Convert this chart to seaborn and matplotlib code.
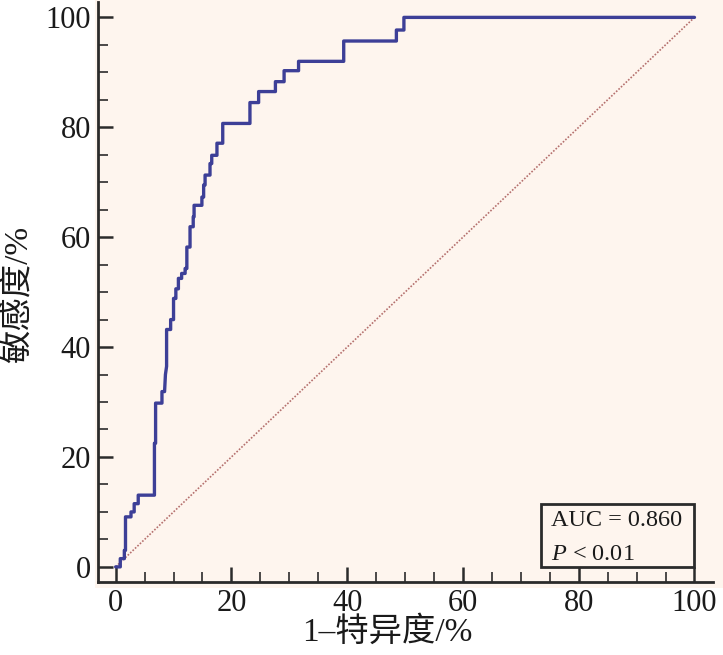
import numpy as np
import seaborn as sns
import matplotlib.pyplot as plt
from matplotlib.patches import Rectangle
from matplotlib.ticker import MultipleLocator

# ROC curve corners (percent)
fpr = [0, 0.8, 0.8, 1.5, 1.5, 1.7, 1.7, 2.65, 2.65, 3.2, 3.2, 3.9, 3.9, 6.7,
       6.7, 6.9, 6.9, 8.0, 8.0, 8.45, 8.6, 8.8, 8.8, 9.5, 9.5, 10.0, 10.0, 10.4,
       10.4, 10.84, 10.84, 11.4, 11.4, 12.0, 12.0, 12.3, 12.3, 12.85, 12.85, 13.4,
       13.4, 13.55, 13.55, 14.9, 14.9, 15.2, 15.2, 15.45, 15.45, 16.3, 16.3, 16.6,
       16.6, 17.5, 17.5, 17.75, 17.75, 18.5, 18.5, 23.2, 23.2, 24.7, 24.7, 27.6,
       27.6, 29.1, 29.1, 31.6, 31.6, 39.4, 39.4, 48.5, 48.5, 49.8, 49.8, 100]
tpr = [0, 0, 1.5, 1.5, 3.0, 3.0, 9.1, 9.1, 10.0, 10.0, 11.5, 11.5, 13.05, 13.05,
       22.5, 22.5, 29.8, 29.8, 31.9, 31.9, 35.0, 36.5, 43.2, 43.2, 45.0, 45.0, 48.85, 48.85,
       50.6, 50.6, 52.5, 52.5, 53.4, 53.4, 54.3, 54.3, 58.2, 58.2, 61.9, 61.9,
       63.7, 63.7, 65.8, 65.8, 67.3, 67.3, 69.5, 69.5, 71.3, 71.3, 73.4, 73.4,
       74.9, 74.9, 77.1, 77.1, 77.1, 77.1, 80.7, 80.7, 84.5, 84.5, 86.5, 86.5,
       88.3, 88.3, 90.3, 90.3, 92.0, 92.0, 95.7, 95.7, 97.7, 97.7, 100, 100]
ref_x = [0, 100]
ref_y = [0, 100]
ticks = [0, 20, 40, 60, 80, 100]
auc_text = 'AUC = 0.860'
p_text = r'$P$ < 0.01'

sns.set_style('ticks')
plt.rcParams['font.family'] = ['Liberation Serif', 'Noto Sans CJK SC']
plt.rcParams['mathtext.fontset'] = 'custom'
plt.rcParams['mathtext.rm'] = 'Liberation Serif'
plt.rcParams['mathtext.it'] = 'Liberation Serif:italic'

bg = '#fef5ee'
ink = '#2b2b2b'

fig = plt.figure(figsize=(7.23, 6.55), dpi=100)
fig.patches.append(Rectangle((95 / 723, 67 / 655), 1, 1, transform=fig.transFigure,
                             facecolor=bg, edgecolor='none', zorder=-5))
ax = fig.add_axes([98 / 723, 73.3 / 655, 615 / 723, 579.7 / 655])
ax.set_zorder(2)
ax.set_facecolor(bg)

sns.lineplot(x=ref_x, y=ref_y, ax=ax, color='#b5706e', linestyle=(0, (1, 1)),
             linewidth=1.2, sort=False, estimator=None)
sns.lineplot(x=fpr, y=tpr, ax=ax, color='#3d3f97', linewidth=2.4,
             sort=False, estimator=None)

ax.set_xlim(-3.05, 103.2)
ax.set_ylim(-2.7, 102.8)
ax.set_xticks(ticks)
ax.set_yticks(ticks)
ax.xaxis.set_minor_locator(MultipleLocator(5))
ax.yaxis.set_minor_locator(MultipleLocator(5))
ax.tick_params(which='major', direction='in', length=11, width=1.8, color=ink,
               labelsize=22, labelcolor='#1a1a1a', pad=5)
ax.tick_params(which='minor', direction='in', length=7, width=1.2, color=ink)
for side in ['top', 'right']:
    ax.spines[side].set_visible(False)
for side in ['left', 'bottom']:
    ax.spines[side].set_linewidth(2)
    ax.spines[side].set_color(ink)

ax.set_xlabel('1–特异度/%', fontsize=24, color='#1a1a1a')
ax.set_ylabel('敏感度/%', fontsize=24, color='#1a1a1a')
ax.xaxis.set_label_coords(0.47, -0.06)
ax.yaxis.set_label_coords(-0.104, 0.495)

# annotation box
ax.add_patch(Rectangle((73.5, 0), 26.5, 11.5, facecolor='none', edgecolor=ink,
                       linewidth=2, zorder=5))
ax.text(75.2, 7.4, auc_text, fontsize=17.5, color='#1a1a1a')
ax.text(75.2, 1.3, p_text, fontsize=17.5, color='#1a1a1a')

fig.savefig('out.png', dpi=100)
